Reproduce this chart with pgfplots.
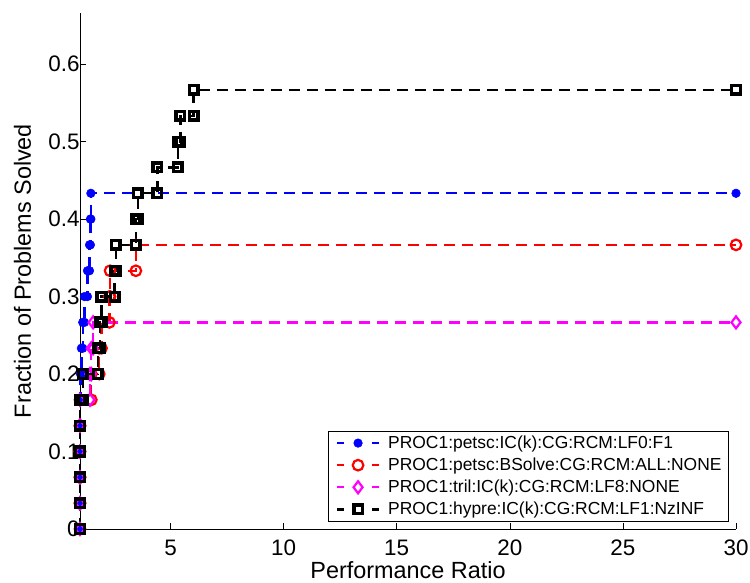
\documentclass[border=0pt]{standalone}
\usepackage{fontspec}
\setmainfont{Liberation Sans}
\usepackage{pgfplots}
\pgfplotsset{compat=1.18}
\definecolor{pblue}{rgb}{0,0,1}
\definecolor{pred}{rgb}{1,0,0}
\definecolor{pmag}{rgb}{1,0,1}

% Each profile is given by the vertices of its staircase, so that every
% corner carries a marker.
\begin{document}
\begin{tikzpicture}[x=1bp,y=1bp]
\useasboundingbox (-80,-54) rectangle (670,529);
\begin{axis}[
  at={(0,0)}, anchor=south west,
  scale only axis, width=656bp, height=516bp,
  xmin=1, xmax=30, ymin=0, ymax=0.666,
  axis lines*=left,
  axis line style={line width=0.6bp},
  tick align=inside,
  major tick length=6bp,
  tick style={line width=0.6bp, black},
  xtick={5,10,15,20,25,30},
  xticklabels={5,10,15,20,25,30},
  ytick={0,0.1,0.2,0.3,0.4,0.5,0.6},
  yticklabels={0,0.1,0.2,0.3,0.4,0.5,0.6},
  ticklabel style={font=\fontsize{22.5}{26}\selectfont},
  xticklabel style={anchor=base, yshift=-27bp},
  yticklabel style={anchor=east, xshift=3bp},
  label style={font=\fontsize{23.5}{27}\selectfont},
  xlabel={Performance Ratio},
  xlabel style={at={(axis description cs:0.5,0)}, anchor=base, yshift=-49bp},
  ylabel={Fraction of Problems Solved},
  ylabel style={at={(axis description cs:-0.075,0.5)}, anchor=base, rotate=0},
  clip=false,
  legend cell align=left,
  legend style={at={(0.989,0.014)}, anchor=south east,
    font=\fontsize{17.5}{21}\selectfont,
    draw=black, line width=0.6bp,
    inner xsep=5bp, inner ysep=3bp,
    row sep=4bp},
  legend image code/.code={
    \draw[#1, dash pattern=on 7bp off 28bp, mark indices={2}]
      plot coordinates {(3bp,0bp) (24bp,0bp) (45bp,0bp)};
    \path (0bp,0bp) (51bp,0bp);
  },
]

% PROC1:petsc:IC(k):CG:RCM:LF0:F1
\addplot[color=pblue, line width=2.3bp, dash pattern=on 11bp off 7bp,
  mark=*, mark size=4.3bp, mark options={solid, line width=0.5bp}]
coordinates {
 (1,0) (1,0.0333) (1,0.0333) (1,0.0667) (1,0.0667) (1,0.1)
 (1,0.1) (1,0.1333) (1,0.1333) (1,0.1667)
 (1.02,0.1667) (1.02,0.2)
 (1.06,0.2) (1.06,0.2333)
 (1.12,0.2333) (1.12,0.2667)
 (1.2,0.2667) (1.2,0.3)
 (1.33,0.3) (1.33,0.3333)
 (1.42,0.3333) (1.42,0.3667)
 (1.46,0.3667) (1.46,0.4)
 (1.48,0.4) (1.48,0.4333)
 (30,0.4333)
};
\addlegendentry{PROC1:petsc:IC(k):CG:RCM:LF0:F1}

% PROC1:petsc:BSolve:CG:RCM:ALL:NONE
\addplot[color=pred, line width=2.3bp, dash pattern=on 11bp off 7bp,
  mark=o, mark size=5.3bp, mark options={solid, line width=2.2bp}]
coordinates {
 (1,0) (1,0.0333) (1,0.0333) (1,0.0667) (1,0.0667) (1,0.1)
 (1,0.1) (1,0.1333) (1,0.1333) (1,0.1667)
 (1.5,0.1667) (1.5,0.2)
 (1.85,0.2) (1.85,0.2333)
 (1.95,0.2333) (1.95,0.2667)
 (2.3,0.2667) (2.3,0.3)
 (2.33,0.3) (2.33,0.3333)
 (3.47,0.3333) (3.47,0.3667)
 (30,0.3667)
};
\addlegendentry{PROC1:petsc:BSolve:CG:RCM:ALL:NONE}

% PROC1:tril:IC(k):CG:RCM:LF8:NONE
\addplot[color=pmag, line width=2.3bp, dash pattern=on 11bp off 7bp,
  mark=diamond, mark size=6bp, mark options={solid, line width=2.2bp}]
coordinates {
 (1,0) (1,0.0333) (1,0.0333) (1,0.0667) (1,0.0667) (1,0.1)
 (1,0.1) (1,0.1333) (1,0.1333) (1,0.1667)
 (1.44,0.1667) (1.44,0.2)
 (1.5,0.2) (1.5,0.2333)
 (1.58,0.2333) (1.58,0.2667)
 (30,0.2667)
};
\addlegendentry{PROC1:tril:IC(k):CG:RCM:LF8:NONE}

% PROC1:hypre:IC(k):CG:RCM:LF1:NzINF
\addplot[color=black, line width=2.3bp, dash pattern=on 11bp off 7bp,
  mark=square, mark size=4.3bp, mark options={solid, line width=3.5bp}]
coordinates {
 (1,0) (1,0.0333) (1,0.0333) (1,0.0667) (1,0.0667) (1,0.1)
 (1,0.1) (1,0.1333) (1,0.1333) (1,0.1667)
 (1.12,0.1667) (1.12,0.2)
 (1.79,0.2) (1.79,0.2333)
 (1.87,0.2333) (1.87,0.2667)
 (1.95,0.2667) (1.95,0.3)
 (2.53,0.3) (2.53,0.3333)
 (2.58,0.3333) (2.58,0.3667)
 (3.47,0.3667) (3.47,0.4)
 (3.55,0.4) (3.55,0.4333)
 (4.42,0.4333) (4.42,0.4667)
 (5.32,0.4667) (5.32,0.5)
 (5.44,0.5) (5.44,0.5333)
 (6.02,0.5333) (6.02,0.5667)
 (30,0.5667)
};
\addlegendentry{PROC1:hypre:IC(k):CG:RCM:LF1:NzINF}

\end{axis}
\end{tikzpicture}
\end{document}
